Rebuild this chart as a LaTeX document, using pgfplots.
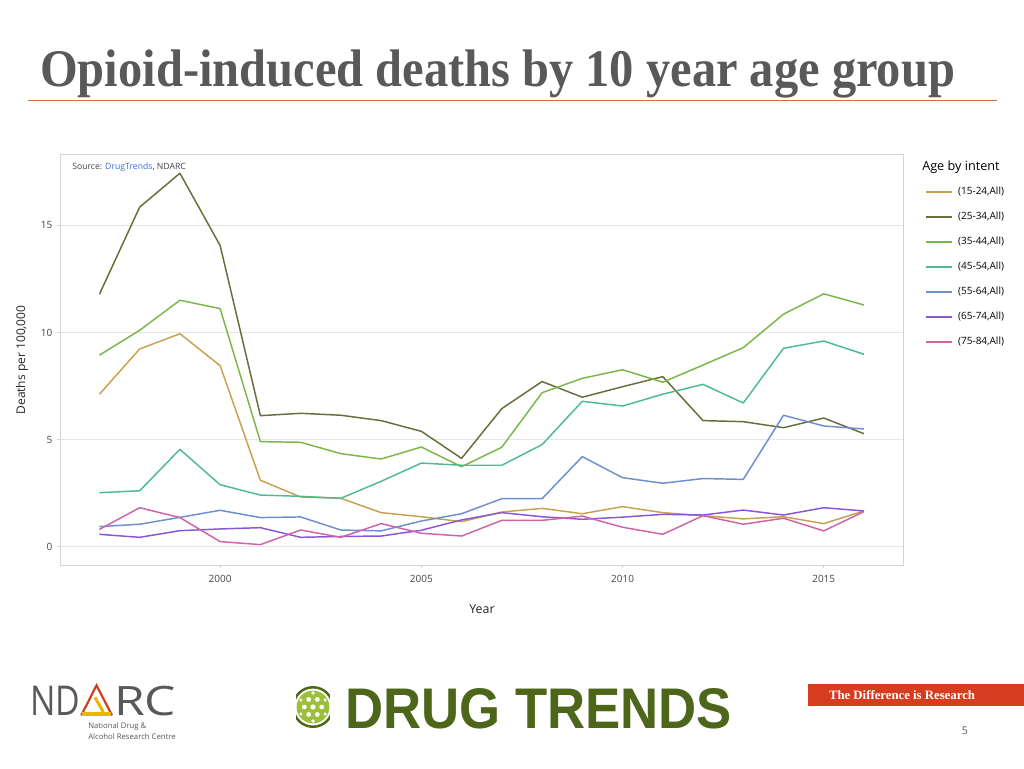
\documentclass[border=0pt]{standalone}
\usepackage{fontspec}
\setmainfont{Open Sans}
\newfontfamily\titlefont{Liberation Serif}
\newfontfamily\logofont{Liberation Sans}
\usepackage{pgfplots}
\pgfplotsset{compat=1.18}
\usetikzlibrary{calc}
\usepackage{graphicx}
\definecolor{titlegray}{HTML}{595959}
\definecolor{titlered}{HTML}{D9694A}
\definecolor{labelgray}{HTML}{444444}
\definecolor{gridgray}{HTML}{E6E6E6}
\definecolor{framegray}{HTML}{D4D4D4}
\definecolor{srcblue}{HTML}{3A6FD8}
\definecolor{cA}{HTML}{C9A04E}
\definecolor{cB}{HTML}{6B6B3B}
\definecolor{cC}{HTML}{7AB648}
\definecolor{cD}{HTML}{4DBB8F}
\definecolor{cE}{HTML}{6E8FCF}
\definecolor{cF}{HTML}{8856D8}
\definecolor{cG}{HTML}{D062A8}
\definecolor{dtgreen}{HTML}{4D6619}
\definecolor{dtlight}{HTML}{9BBF3A}
\definecolor{ndred}{HTML}{D33B1F}
\definecolor{ndyellow}{HTML}{E8B800}
\definecolor{boxred}{HTML}{D63C1E}

\pgfplotstableread{
year a b c d e f g
1997 7.12 11.78 8.94 2.53 0.95 0.59 0.82
1998 9.23 15.84 10.10 2.62 1.06 0.45 1.83
1999 9.94 17.42 11.50 4.55 1.38 0.76 1.37
2000 8.45 14.05 11.11 2.90 1.71 0.84 0.25
2001 3.11 6.12 4.91 2.42 1.37 0.90 0.11
2002 2.33 6.23 4.88 2.36 1.40 0.45 0.79
2003 2.27 6.14 4.35 2.27 0.79 0.49 0.45
2004 1.60 5.89 4.10 3.06 0.75 0.51 1.09
2005 1.41 5.39 4.66 3.91 1.21 0.78 0.64
2006 1.18 4.13 3.74 3.81 1.55 1.26 0.51
2007 1.63 6.45 4.65 3.81 2.25 1.60 1.24
2008 1.80 7.71 7.19 4.77 2.25 1.41 1.24
2009 1.55 6.98 7.86 6.79 4.21 1.29 1.44
2010 1.88 7.47 8.26 6.57 3.23 1.39 0.92
2011 1.60 7.94 7.68 7.12 2.97 1.52 0.59
2012 1.46 5.89 8.48 7.58 3.19 1.49 1.46
2013 1.31 5.84 9.29 6.71 3.15 1.72 1.06
2014 1.41 5.56 10.85 9.26 6.14 1.49 1.34
2015 1.09 6.01 11.80 9.60 5.64 1.83 0.75
2016 1.68 5.28 11.28 8.98 5.50 1.68 1.65
}\datatable

\begin{document}
\begin{tikzpicture}
\path[fill=white] (0pt,0pt) rectangle (768pt,576pt);
\useasboundingbox (0pt,0pt) rectangle (768pt,576pt);

\begin{axis}[
  at={(45pt,152.25pt)}, anchor=south west,
  width=632.25pt, height=307.5pt, scale only axis,
  xmin=1996.02, xmax=2016.97, ymin=-0.84, ymax=18.27,
  xtick={2000,2005,2010,2015}, ytick={0,5,10,15},
  ymajorgrids, grid style={color=gridgray, line width=0.75pt},
  axis line style={color=framegray, line width=0.75pt},
  tick style={color=framegray, line width=0.75pt},
  tick align=outside, major tick length=2.25pt,
  xtick pos=bottom, ytick pos=left,
  /pgf/number format/assume math mode=true,
  /pgf/number format/1000 sep={},
  ticklabel style={font=\fontsize{7.5}{9}\selectfont, text=labelgray},
  xticklabel style={yshift=-2pt},
  xlabel={Year}, ylabel={Deaths per 100,000},
  every axis x label/.style={at={(axis description cs:0.5006,-0.1085)}, anchor=center, font=\fontsize{9.3}{11}\selectfont, text=black!85},
  every axis y label/.style={at={(axis description cs:-0.0451,0.5)}, anchor=center, rotate=90, font=\fontsize{9}{11}\selectfont, text=black!85},
  legend style={at={(1.0261,0.922)}, anchor=north west, draw=none, fill=none,
    font=\fontsize{7.5}{9}\selectfont, inner sep=0pt, row sep=11.25pt, column sep=3.75pt,
    nodes={inner sep=0pt, text height=5.5pt, text depth=2pt}},
  legend cell align=left,
  legend image code/.code={\draw[#1, line width=1.4pt] (0pt,0pt) -- (19.5pt,0pt);},
  every axis plot/.append style={line width=1.1pt, line join=round},
]
\addplot[color=cA] table[x=year,y=a] {\datatable}; \addlegendentry{(15-24,All)}
\addplot[color=cB] table[x=year,y=b] {\datatable}; \addlegendentry{(25-34,All)}
\addplot[color=cC] table[x=year,y=c] {\datatable}; \addlegendentry{(35-44,All)}
\addplot[color=cD] table[x=year,y=d] {\datatable}; \addlegendentry{(45-54,All)}
\addplot[color=cE] table[x=year,y=e] {\datatable}; \addlegendentry{(55-64,All)}
\addplot[color=cF] table[x=year,y=f] {\datatable}; \addlegendentry{(65-74,All)}
\addplot[color=cG] table[x=year,y=g] {\datatable}; \addlegendentry{(75-84,All)}
\end{axis}

\begin{scope}[x=1pt,y=1pt]
% title
\node[anchor=base west, inner sep=0pt, text=titlegray] at (30,510.75)
  {\resizebox{686pt}{27.5pt}{\titlefont\bfseries Opioid-induced deaths by 10 year age group}};
\draw[titlered, line width=0.75pt] (21,500.25) -- (747.75,500.25);

% legend title and source note
\node[anchor=west, inner sep=0pt] at (691.5,450.75) {\fontsize{9.5}{11}\selectfont Age by intent};
\node[anchor=west, inner sep=0pt, text=labelgray] at (54,450.75)
  {\fontsize{6.5}{7.5}\selectfont Source: \textcolor{srcblue}{DrugTrends}, NDARC};

% NDARC logo
\node[anchor=base west, inner sep=0pt, text=titlegray] at (22.5,39.5)
  {\resizebox{37.5pt}{22pt}{ND}};
\node[anchor=base west, inner sep=0pt, text=titlegray] at (85.5,39.5)
  {\resizebox{46.5pt}{22pt}{RC}};
\draw[ndred, line width=1.6pt, line join=miter] (61,39.5) -- (72.4,62) -- (84,39.5);
\draw[ndyellow, line width=3pt] (61.5,40.5) -- (83.5,40.5);
\draw[ndyellow, line width=2.2pt] (77.5,42) -- (71.2,53);
\node[anchor=west, inner sep=0pt, text=titlegray] at (66,31)
  {\fontsize{5.8}{7}\selectfont National Drug \&};
\node[anchor=west, inner sep=0pt, text=titlegray] at (66,23.5)
  {\fontsize{5.8}{7}\selectfont Alcohol Research Centre};

% DRUG TRENDS logo
\fill[dtgreen] (234.75,45.75) circle (15.75);
\fill[white] (234.75,45.75) circle (13.8);
\fill[dtlight] (234.75,45.75) circle (12.3);
\fill[white] (234.75,45.75) circle (2);
\foreach \a in {0,60,...,300} {\fill[white] ($(234.75,45.75)+(\a:6.5)$) circle (1.8);}
\foreach \a in {30,90,...,330} {\fill[white] ($(234.75,45.75)+(\a:10.5)$) circle (1.4);}
\fill[white] (217.5,30) rectangle (222,61.5);
\fill[white] (247.5,30) rectangle (252,61.5);
\node[anchor=base west, inner sep=0pt, text=dtgreen] at (258.75,30)
  {\resizebox{290pt}{30pt}{\logofont\bfseries DRUG TRENDS}};

% red box
\fill[boxred] (606,46.5) rectangle (768,63);
\node[inner sep=0pt, text=white] at (676.5,54.75)
  {\resizebox{109.5pt}{!}{\titlefont\bfseries The Difference is Research}};
\node[inner sep=0pt, text=titlegray] at (723.75,27.75) {\fontsize{8}{9}\selectfont 5};
\end{scope}
\end{tikzpicture}
\end{document}
